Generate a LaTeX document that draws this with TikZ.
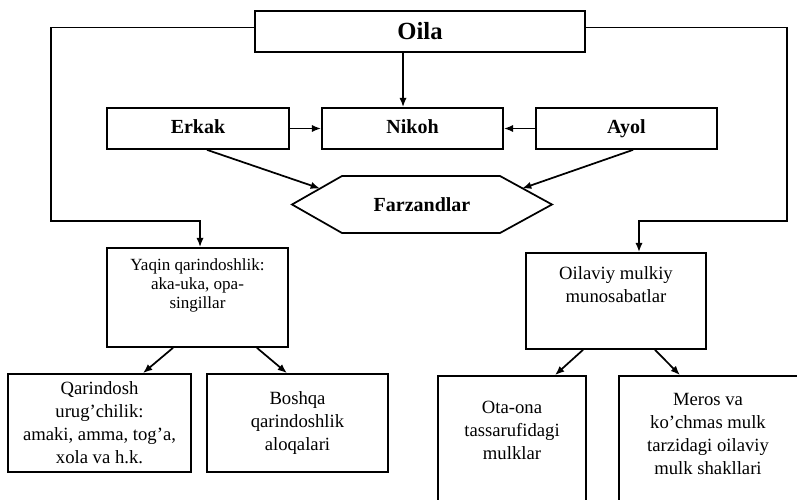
\documentclass[tikz,border=0pt]{standalone}
\usepackage{fontspec}
\setmainfont{Liberation Serif}
\usetikzlibrary{arrows.meta,calc}
\begin{document}
\begin{tikzpicture}[x=0.75pt,y=-0.75pt,
  box/.style={draw, line width=1.3pt, inner sep=0pt},
  arr/.style={-{Latex[length=7pt,width=5.5pt]}, line width=1.3pt},
  ln/.style={line width=1.3pt},
  topf/.style={font=\fontsize{15}{18}\selectfont\bfseries, text height=10.5pt, text depth=3pt},
  lowf/.style={font=\fontsize{14}{17.25}\selectfont, align=center, inner sep=0pt},
]
\useasboundingbox (0,0) rectangle (797,500);
\clip (0,0) rectangle (797,500);
\fill[white] (0,0) rectangle (797,500);

% top row
\node[box, minimum width=247.5pt, minimum height=30.75pt, font=\fontsize{18.5}{22}\selectfont\bfseries] (oila) at (420,31.5) {Oila};
\node[box, topf, minimum width=136.5pt, minimum height=30.75pt] (erkak) at (198,128.5) {Erkak};
\node[box, topf, minimum width=135.75pt, minimum height=30.75pt] (nikoh) at (412.5,128.5) {Nikoh};
\node[box, topf, minimum width=135.75pt, minimum height=30.75pt] (ayol) at (626.5,128.5) {Ayol};

% hexagon
\coordinate (h1) at (292,204.5);
\coordinate (h2) at (342,176);
\coordinate (h3) at (500,176);
\coordinate (h4) at (552,204.5);
\coordinate (h5) at (500,233);
\coordinate (h6) at (342,233);
\draw[ln, line join=miter] (h1) -- (h2) -- (h3) -- (h4) -- (h5) -- (h6) -- cycle;
\node[topf] (farz) at (422,206) {Farzandlar};
\coordinate (fl) at (320,188.5);
\coordinate (fr) at (522,188.5);

% middle boxes
\node[box, minimum width=135.75pt, minimum height=74.25pt] (yaqin) at (197.5,297.5) {};
\node[lowf, font=\fontsize{12.8}{14.3}\selectfont] (yaqint) at (197.5,285) {Yaqin qarindoshlik:\\aka-uka, opa-\\singillar};
\node[box, minimum width=135pt, minimum height=72pt] (mulk) at (616,301) {};
\node[lowf] (mulkt) at (616,285) {Oilaviy mulkiy\\munosabatlar};

% bottom boxes
\node[box, lowf, minimum width=137.25pt, minimum height=73.5pt] (qar) at (99.5,423) {Qarindosh\\urug’chilik:\\amaki, amma, tog’a,\\xola va h.k.};
\node[box, lowf, minimum width=135.75pt, minimum height=73.5pt] (bosh) at (297.5,423) {Boshqa\\qarindoshlik\\aloqalari};
\node[box, minimum width=111pt, minimum height=108pt] (ota) at (512,448) {};
\node[lowf] (otat) at (512,430) {Ota-ona\\tassarufidagi\\mulklar};
\node[box, minimum width=139.5pt, minimum height=108pt] (meros) at (712,448) {};
\node[lowf] (merost) at (708,434) {Meros va\\ko’chmas mulk\\tarzidagi oilaviy\\mulk shakllari};

% connectors
\draw[arr] ([xshift=-12.75pt]oila.south) -- ([xshift=-7.1pt]nikoh.north);
\draw[arr] (erkak.east) -- (nikoh.west);
\draw[arr] (ayol.west) -- (nikoh.east);
\draw[arr] ([xshift=6.75pt]erkak.south) -- (fl);
\draw[arr] ([xshift=4.9pt]ayol.south) -- (fr);

\coordinate (L) at (51,221);
\coordinate (R) at (787,221);
\draw[arr] ([yshift=3pt]oila.west) -| (L) -| ([xshift=1.9pt]yaqin.north);
\draw[arr] ([yshift=3pt]oila.east) -| (R) -| ([xshift=17.25pt]mulk.north);

\draw[arr] ([xshift=-18.4pt]yaqin.south) -- ([xshift=32.6pt]qar.north);
\draw[arr] ([xshift=44.6pt]yaqin.south) -- ([xshift=-7.9pt]bosh.north);
\draw[arr] ([xshift=-24.75pt]mulk.south) -- ([xshift=32.25pt]ota.north);
\draw[arr] ([xshift=29.25pt]mulk.south) -- ([xshift=-24pt]meros.north);
\end{tikzpicture}
\end{document}
